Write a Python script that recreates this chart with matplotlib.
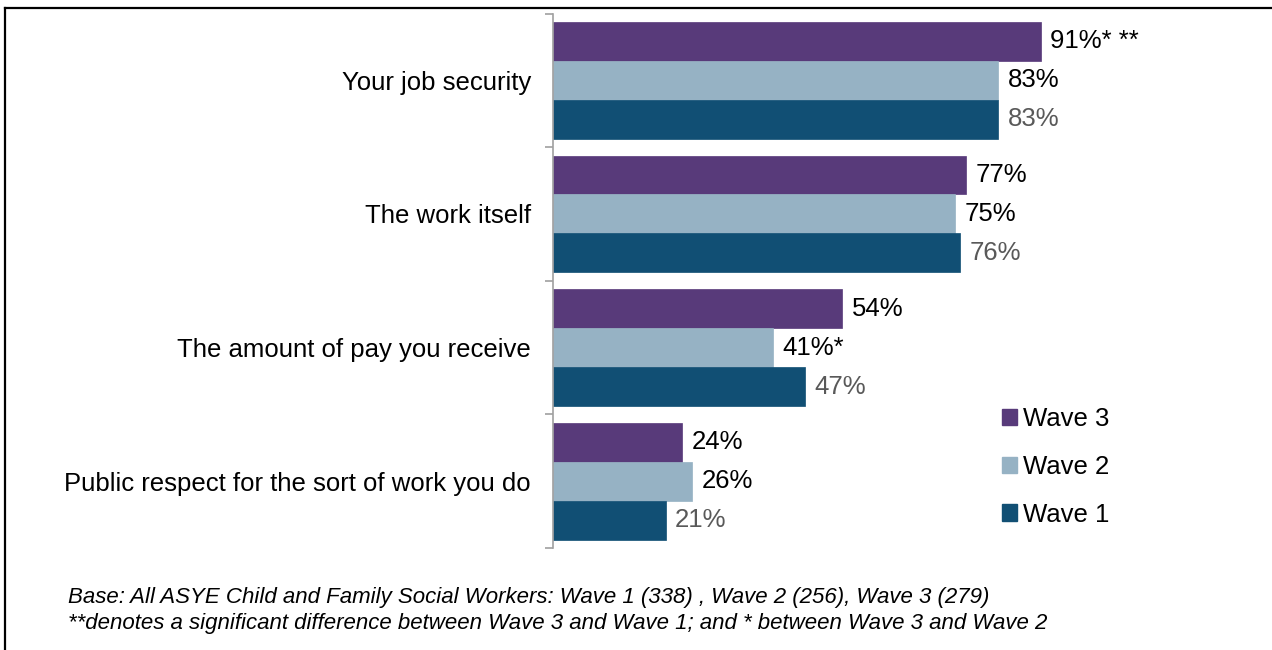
import matplotlib
matplotlib.use("Agg")
import matplotlib.pyplot as plt
from matplotlib.patches import Patch
from matplotlib.lines import Line2D
import numpy as np

plt.rcParams['font.family'] = ['Liberation Sans', 'DejaVu Sans']

categories = ["Your job security", "The work itself",
              "The amount of pay you receive",
              "Public respect for the sort of work you do"]
wave3 = [91, 77, 54, 24]
wave2 = [83, 75, 41, 26]
wave1 = [83, 76, 47, 21]
wave3_labels = ["91%* **", "77%", "54%", "24%"]
wave2_labels = ["83%", "75%", "41%*", "26%"]
wave1_labels = ["83%", "76%", "47%", "21%"]
series_names = ["Wave 3", "Wave 2", "Wave 1"]
colors = ["#583A7A", "#96B2C4", "#114F74"]
label_colors = ["black", "black", "#595959"]
footnotes = ["Base: All ASYE Child and Family Social Workers: Wave 1 (338) , Wave 2 (256), Wave 3 (279)",
             "**denotes a significant difference between Wave 3 and Wave 1; and * between Wave 3 and Wave 2"]

W, H = 1272, 650
FS = 18.5
fig = plt.figure(figsize=(W / 100, H / 100), dpi=100)
ax = fig.add_axes([553 / W, 1 - 548 / H, 536 / W, 534.5 / H])

y = np.arange(len(categories))
bh = 0.2914
series = [wave3, wave2, wave1]
labels = [wave3_labels, wave2_labels, wave1_labels]
offsets = [-bh, 0, bh]
for vals, labs, off, c, lc in zip(series, labels, offsets, colors, label_colors):
    bars = ax.barh(y + off, vals, height=bh, color=c, edgecolor=c, linewidth=0.5)
    for b, lab in zip(bars, labs):
        ax.text(b.get_width() + 1.8, b.get_y() + b.get_height() / 2, lab,
                va='center', ha='left', fontsize=FS, color=lc)

ax.set_xlim(0, 100)
ax.set_ylim(len(categories) - 0.5, -0.5)
ax.set_yticks(y)
ax.set_yticklabels(categories, fontsize=FS)
ax.set_yticks(np.arange(-0.5, len(categories), 1), minor=True)
ax.tick_params(axis='y', which='major', length=0, pad=16)
ax.tick_params(axis='y', which='minor', length=6, color='#A0A0A0', width=1.2)
ax.set_xticks([])
for s in ['top', 'right', 'bottom']:
    ax.spines[s].set_visible(False)
ax.spines['left'].set_color('#A0A0A0')
ax.spines['left'].set_linewidth(1.2)

handles = [Patch(facecolor=c, edgecolor=c) for c in colors]
fig.legend(handles, series_names, loc='center left',
           bbox_to_anchor=(1002 / W, 1 - 467 / H), frameon=False,
           fontsize=FS, handlelength=0.6, handleheight=0.6,
           handletextpad=0.2, labelspacing=0.92, borderpad=0, borderaxespad=0)

fig.text(68 / W, 1 - 598 / H, footnotes[0], fontsize=16, style='italic',
         va='center', ha='left')
fig.text(68 / W, 1 - 623 / H, footnotes[1], fontsize=16, style='italic',
         va='center', ha='left')

# outer frame (top and left)
fig.add_artist(Line2D([5 / W, 1], [1 - 8 / H, 1 - 8 / H], transform=fig.transFigure,
                      color='black', linewidth=1.6))
fig.add_artist(Line2D([5 / W, 5 / W], [0, 1 - 8 / H], transform=fig.transFigure,
                      color='black', linewidth=1.6))

fig.savefig("out.png", dpi=100)
